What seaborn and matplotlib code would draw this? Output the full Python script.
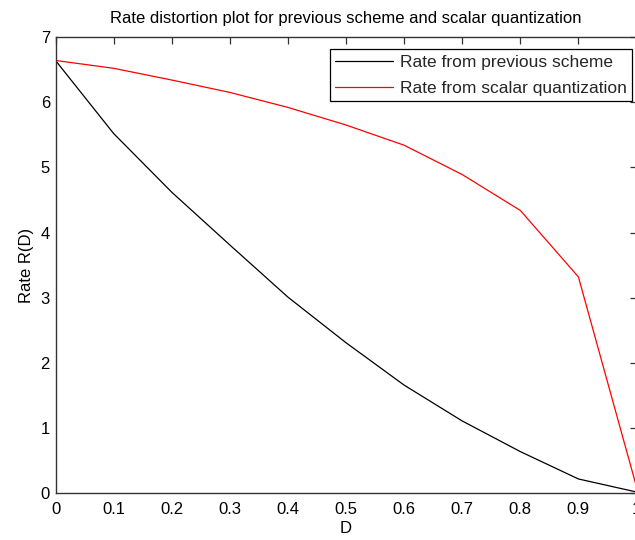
import matplotlib
matplotlib.use("Agg")
import matplotlib.pyplot as plt
import seaborn as sns
import pandas as pd

# ---- data ----
D = [0.0, 0.1, 0.2, 0.3, 0.4, 0.5, 0.6, 0.7, 0.8, 0.9, 1.0]
rate_previous = [6.64, 5.52, 4.62, 3.81, 3.01, 2.31, 1.66, 1.11, 0.64, 0.22, 0.02]
rate_scalar = [6.64, 6.52, 6.34, 6.15, 5.92, 5.65, 5.34, 4.89, 4.34, 3.32, 0.10]
series_names = ["Rate from previous scheme", "Rate from scalar quantization"]
x_ticks = [0, 0.1, 0.2, 0.3, 0.4, 0.5, 0.6, 0.7, 0.8, 0.9, 1]
x_ticklabels = ["0", "0.1", "0.2", "0.3", "0.4", "0.5", "0.6", "0.7", "0.8", "0.9", "1"]
y_ticks = [0, 1, 2, 3, 4, 5, 6, 7]

df = pd.DataFrame({
    "D": D * 2,
    "Rate": rate_previous + rate_scalar,
    "Series": [series_names[0]] * len(D) + [series_names[1]] * len(D),
})

sns.set_theme(style="white")
plt.rcParams["font.family"] = ["Liberation Sans", "DejaVu Sans"]

FS = 12
fig = plt.figure(figsize=(6.35, 5.4), dpi=100)
W, H = 635.0, 540.0
left, right, top, bottom = 55.5, 636.5, 37.0, 493.3
ax = fig.add_axes([left / W, 1 - bottom / H, (right - left) / W, (bottom - top) / H])

sns.lineplot(data=df, x="D", y="Rate", hue="Series",
             palette={series_names[0]: "black", series_names[1]: "#ff0000"},
             linewidth=0.9, ax=ax, legend=True, sort=False)

ax.set_xlim(0, 1)
ax.set_ylim(0, 7)
ax.set_xticks(x_ticks)
ax.set_xticklabels(x_ticklabels)
ax.set_yticks(y_ticks)
ax.tick_params(direction="in", length=5, width=0.9, color="#333333",
               top=True, right=True, labelsize=FS, labelcolor="black", pad=4)
ax.tick_params(axis="x", pad=6.5)
for s in ax.spines.values():
    s.set_color("#333333")
    s.set_linewidth(1.0)

ax.set_title("Rate distortion plot for previous scheme and scalar quantization",
             fontsize=FS, pad=10, color="black")
ax.set_xlabel("D", fontsize=FS, labelpad=3, color="black")
ax.set_ylabel("Rate R(D)", fontsize=FS, labelpad=5, color="black")

handles, labels = ax.get_legend_handles_labels()
leg = ax.legend(handles, labels, loc="upper right",
                bbox_to_anchor=(632 / W, 1 - 49 / H), bbox_transform=fig.transFigure,
                borderaxespad=0, fontsize=12.5, handlelength=3.3, handletextpad=0.4,
                frameon=True, fancybox=False, edgecolor="black", framealpha=1,
                borderpad=0.32, labelspacing=0.62)
leg.get_frame().set_linewidth(0.9)
for h in leg.get_lines():
    h.set_linewidth(0.9)

fig.savefig("out.png", dpi=100)
